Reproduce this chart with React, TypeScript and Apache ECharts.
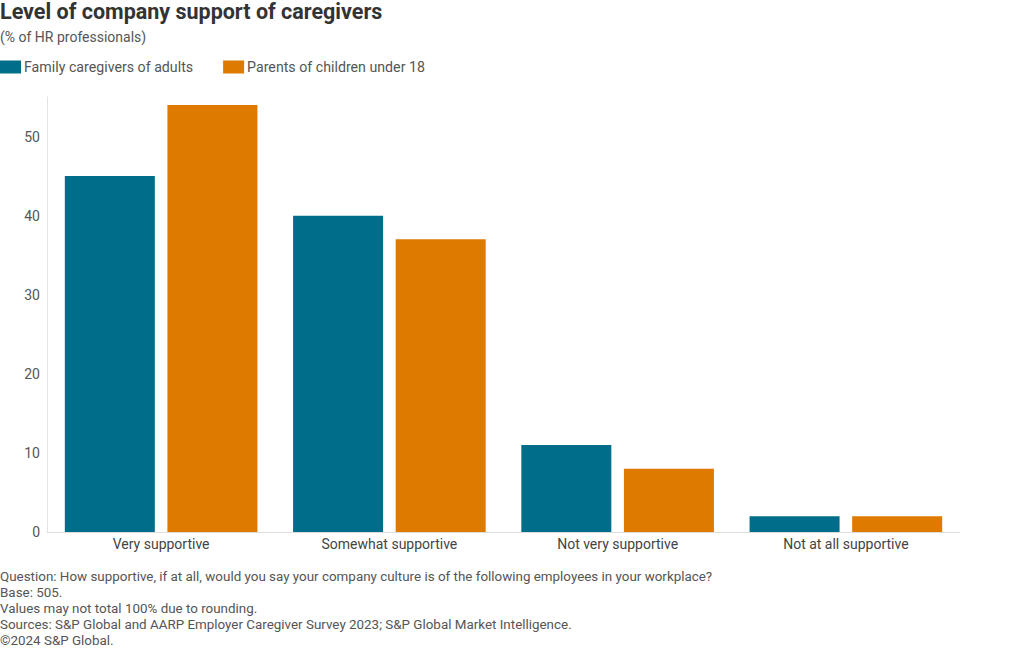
import React, { useEffect, useRef } from "react";
import * as echarts from "echarts";

const categories = ["Very supportive", "Somewhat supportive", "Not very supportive", "Not at all supportive"];
const familyCaregivers = [45, 40, 11, 2];
const parents = [54, 37, 8, 2];
const seriesNames = ["Family caregivers of adults", "Parents of children under 18"];
const footerLines = [
  "Question: How supportive, if at all, would you say your company culture is of the following employees in your workplace?",
  "Base: 505.",
  "Values may not total 100% due to rounding.",
  "Sources: S&P Global and AARP Employer Caregiver Survey 2023; S&P Global Market Intelligence.",
  "\u00a92024 S&P Global.",
];

const FONT = "Roboto, 'Noto Sans', sans-serif";

export default function App() {
  const ref = useRef<HTMLDivElement>(null);
  useEffect(() => {
    document.body.style.margin = "0";
    const chart = echarts.init(ref.current!, null, { renderer: "svg" });
    chart.setOption({
      animation: false,
      textStyle: { fontFamily: FONT },
      title: {
        text: "Level of company support of caregivers",
        subtext: "(% of HR professionals)",
        left: 0,
        top: 0,
        padding: 0,
        itemGap: 8,
        textStyle: { fontSize: 21.5, fontWeight: "bold", color: "#333333", fontFamily: FONT },
        subtextStyle: { fontSize: 14, color: "#555555", fontFamily: FONT },
      },
      legend: {
        left: 0,
        top: 60,
        padding: 0,
        itemWidth: 21,
        itemHeight: 13,
        itemGap: 30,
        icon: "rect",
        textStyle: { fontSize: 14.2, color: "#555555", fontFamily: FONT, padding: [0, 0, 0, -2] },
        data: seriesNames,
      },
      grid: { left: 47, right: 60, top: 97, bottom: 118, containLabel: false },
      xAxis: {
        type: "category",
        data: categories,
        axisLine: { show: true, lineStyle: { color: "#dddddd" } },
        axisTick: { show: false },
        axisLabel: { fontSize: 14, color: "#444444", margin: 5 },
      },
      yAxis: {
        type: "value",
        min: 0,
        max: 55,
        interval: 10,
        splitLine: { show: false },
        axisLine: { show: true, lineStyle: { color: "#e3e3e3" } },
        axisTick: { show: false },
        axisLabel: { fontSize: 14, color: "#555555", margin: 7, showMaxLabel: false },
      },
      series: [
        {
          name: seriesNames[0],
          type: "bar",
          data: familyCaregivers,
          barWidth: 90,
          barGap: "14%",
          itemStyle: { color: "#006E8A" },
        },
        {
          name: seriesNames[1],
          type: "bar",
          data: parents,
          barWidth: 90,
          barGap: "14%",
          itemStyle: { color: "#DF7A00" },
        },
      ],
      graphic: footerLines.map((t, i) => ({
        type: "text",
        left: 0,
        top: 570 + i * 16,
        style: { text: t, fontSize: 13.4, fill: "#555555", fontFamily: FONT },
      })),
    });
    return () => chart.dispose();
  }, []);
  return <div ref={ref} style={{ width: 1020, height: 650 }} />;
}
